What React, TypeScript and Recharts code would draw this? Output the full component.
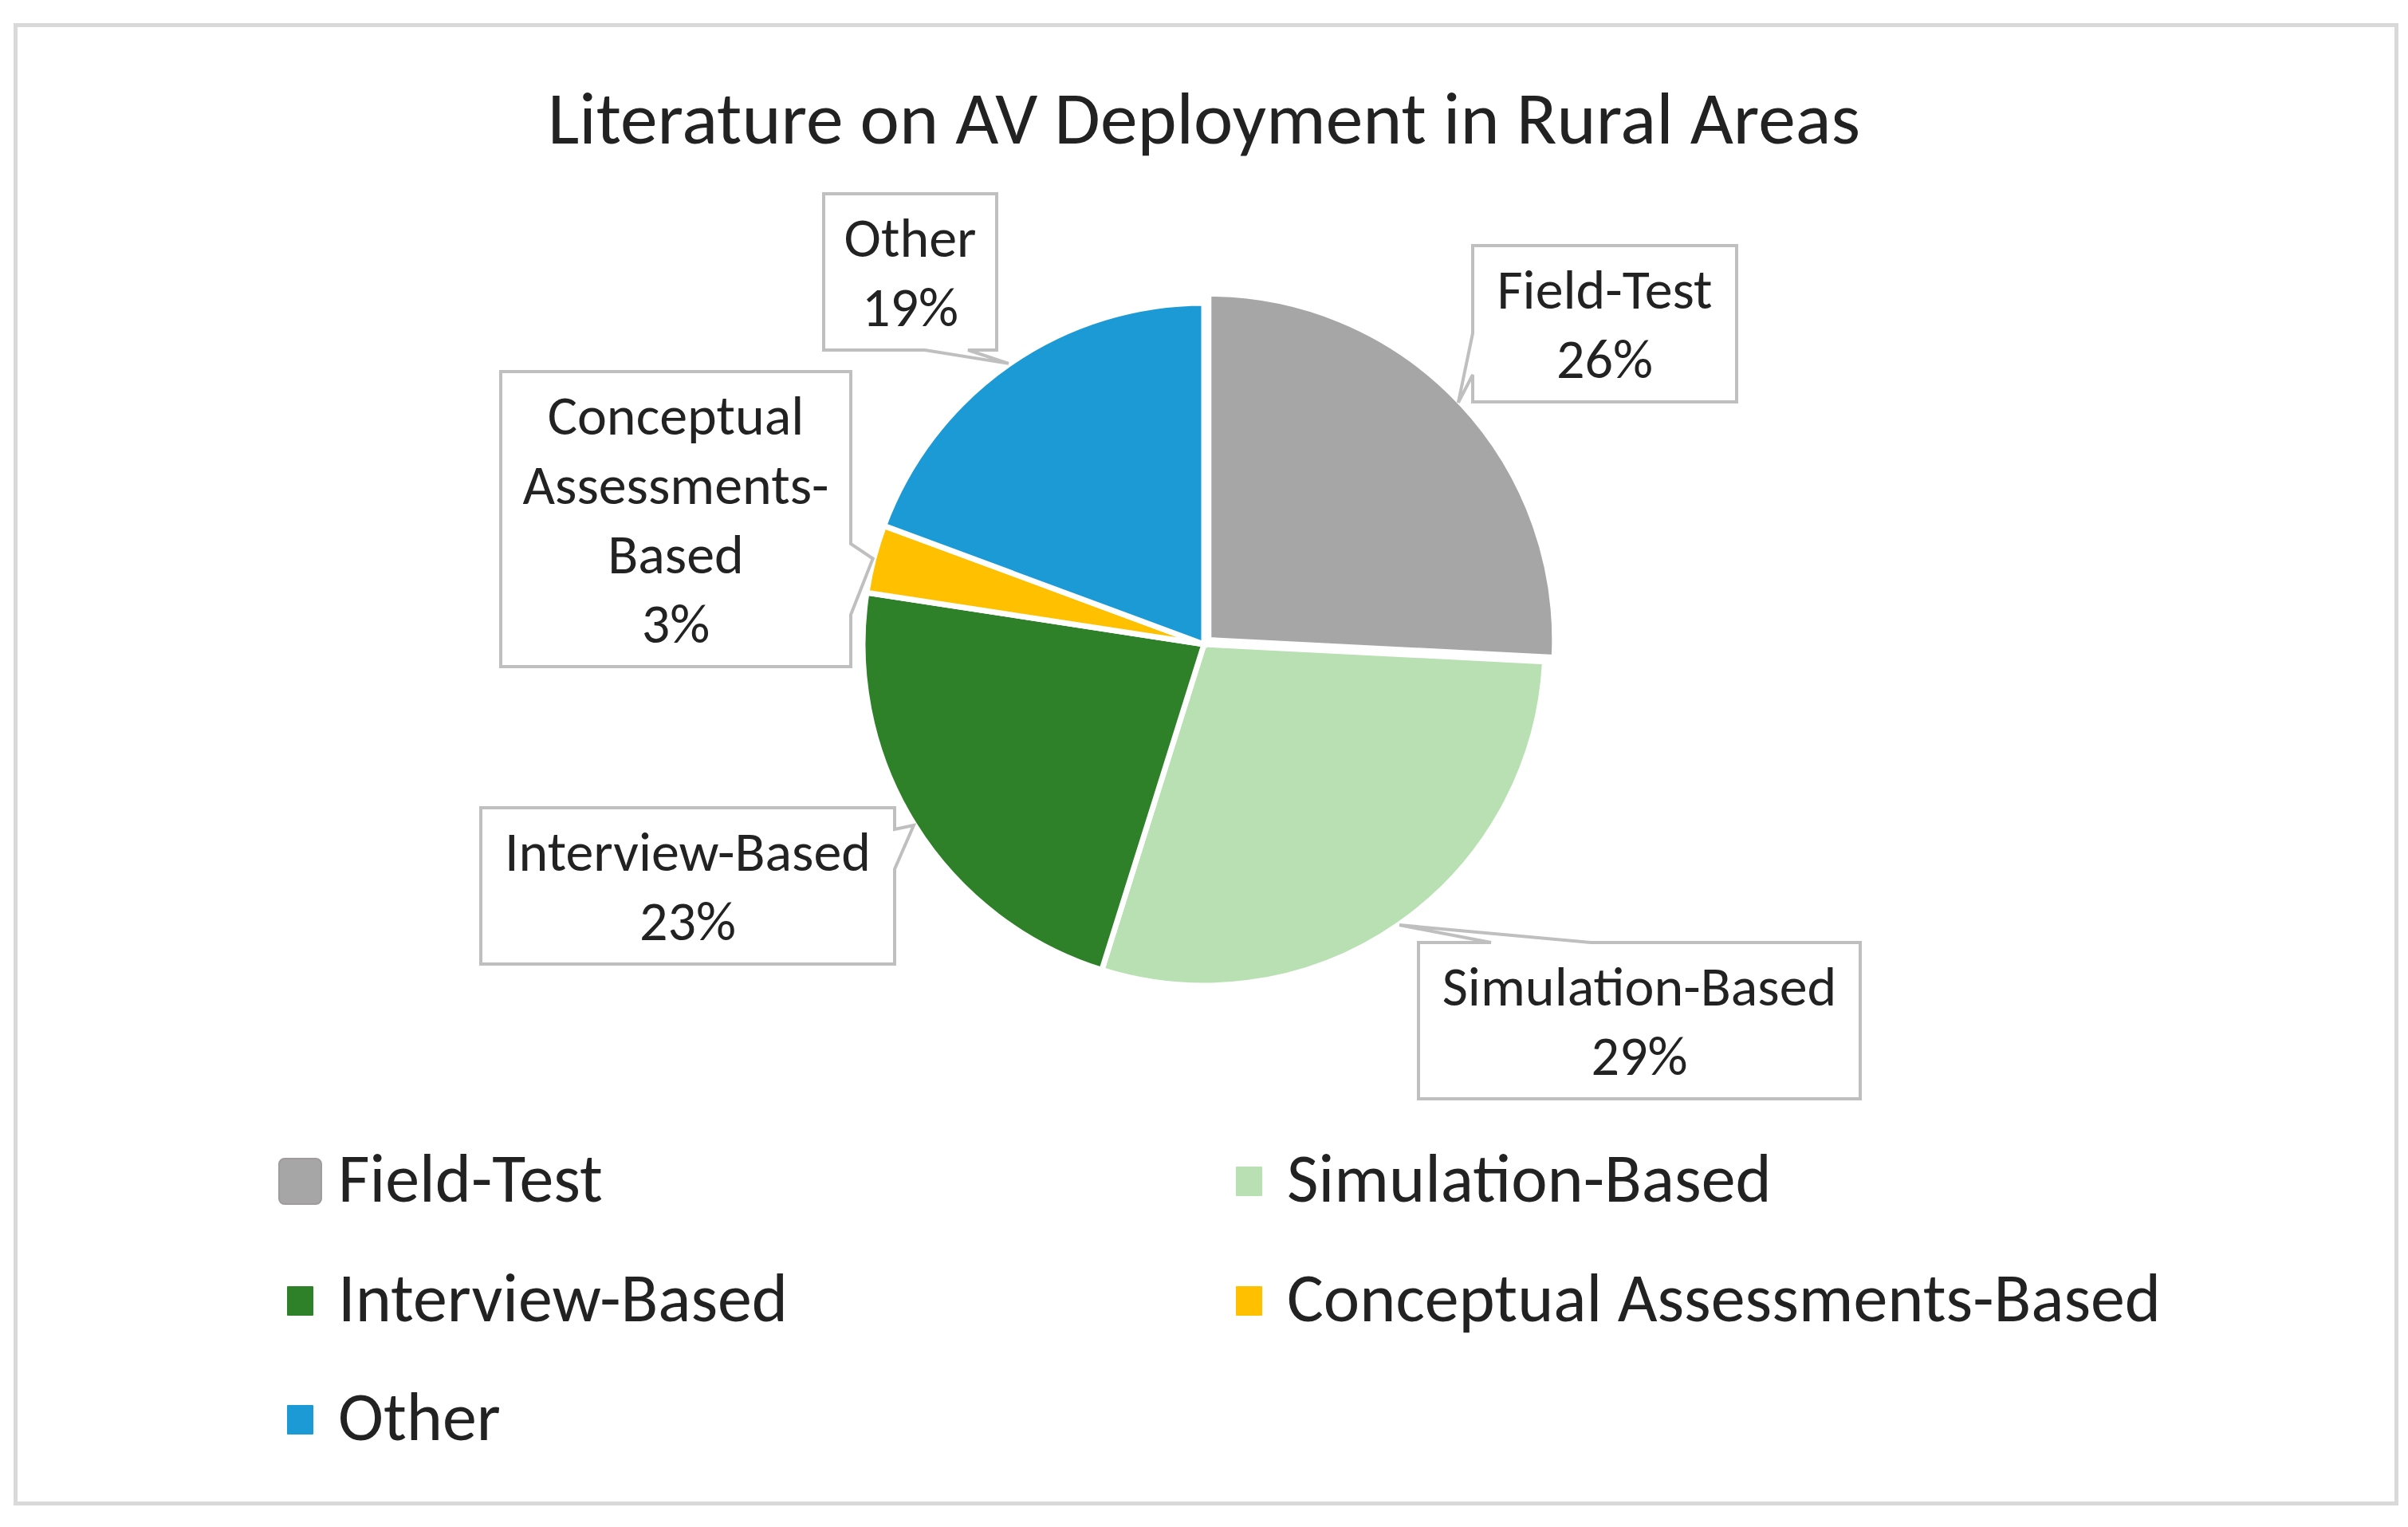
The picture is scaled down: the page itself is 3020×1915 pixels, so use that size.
import React from "react";
import { PieChart, Pie, Cell, Legend } from "recharts";

// ---------- data ----------
const categories = ["Field-Test", "Simulation-Based", "Interview-Based", "Conceptual Assessments-Based", "Other"];
const paperCounts = [8, 9, 7, 1, 6];
const labelLines = [["Field-Test"], ["Simulation-Based"], ["Interview-Based"], ["Conceptual", "Assessments-", "Based"], ["Other"]];
const colors = ["#A6A6A6", "#B9E0B3", "#2E8029", "#FFC000", "#1B9AD6"];
const chartTitle = "Literature on AV Deployment in Rural Areas";

const data = categories.map((name, i) => ({ name, value: paperCounts[i] }));

// ---------- layout ----------
const W = 3020;
const H = 1915;
const CX = 1510;
const CY = 808;
const R = 428;
const FONT = "Carlito, Lato, 'Noto Sans', sans-serif";
const TEXT_COLOR = "#222222";
const RAD = Math.PI / 180;
const EXPLODE = [8, 0, 0, 0, 0];
const EXTRA_R = [3, 0, 0, 0, 0];

type Side = "top" | "right" | "bottom" | "left";
const LABEL_BOX: { dx: number; dy: number; w: number; side: Side; a: number; b: number }[] = [
  { dx: 337, dy: -500, w: 331, side: "left", a: 110, b: 162 },
  { dx: 269, dy: 374, w: 554, side: "top", a: 91, b: 216 },
  { dx: -907, dy: 205, w: 519, side: "right", a: 27, b: 77 },
  { dx: -882, dy: -342, w: 439, side: "right", a: 216, b: 305 },
  { dx: -477, dy: -565, w: 217, side: "bottom", a: 127, b: 181 },
];
const LINE_STEP = 87;
const FIRST_BASE = 79;
const BOTTOM_PAD = 30;

const total = paperCounts.reduce((s, v) => s + v, 0);
const startAngle = 90;
const endAngle = -270;
// polar mid-angle of the exploded (first) slice
const firstMid = startAngle - ((paperCounts[0] / 2) / total) * 360;
const explodeCx = CX + EXPLODE[0] * Math.cos(firstMid * RAD);
const explodeCy = CY - EXPLODE[0] * Math.sin(firstMid * RAD);

const renderLabel = (props: any) => {
  const { cx, cy, midAngle, outerRadius, percent, index } = props;
  const L = LABEL_BOX[index];
  const lines = [...labelLines[index], `${Math.round(percent * 100)}%`];
  const ex = EXPLODE[index] * Math.cos(-midAngle * RAD);
  const ey = EXPLODE[index] * Math.sin(-midAngle * RAD);
  const r = outerRadius + EXTRA_R[index] + 1;
  const tx = cx + ex + r * Math.cos(-midAngle * RAD);
  const ty = cy + ey + r * Math.sin(-midAngle * RAD);
  const x0 = cx + L.dx;
  const y0 = cy + L.dy;
  const w = L.w;
  const h = FIRST_BASE + LINE_STEP * (lines.length - 1) + BOTTOM_PAD;
  let d = `M${x0},${y0}`;
  if (L.side === "top") d += ` L${x0 + L.a},${y0} L${tx},${ty} L${x0 + L.b},${y0}`;
  d += ` L${x0 + w},${y0}`;
  if (L.side === "right") d += ` L${x0 + w},${y0 + L.a} L${tx},${ty} L${x0 + w},${y0 + L.b}`;
  d += ` L${x0 + w},${y0 + h}`;
  if (L.side === "bottom") d += ` L${x0 + L.b},${y0 + h} L${tx},${ty} L${x0 + L.a},${y0 + h}`;
  d += ` L${x0},${y0 + h}`;
  if (L.side === "left") d += ` L${x0},${y0 + L.b} L${tx},${ty} L${x0},${y0 + L.a}`;
  d += " Z";
  return (
    <g key={`lbl-${index}`}>
      <path d={d} fill="#FFFFFF" stroke="#BFBFBF" strokeWidth={4} strokeLinejoin="miter" />
      {lines.map((t, i) => (
        <text
          key={i}
          x={x0 + w / 2}
          y={y0 + FIRST_BASE + LINE_STEP * i}
          textAnchor="middle"
          fontFamily={FONT}
          fontSize={70}
          fill={TEXT_COLOR}
        >
          {t}
        </text>
      ))}
    </g>
  );
};

const LEGEND_COL_X = [376, 1566];
const LEGEND_ROW_Y = [1481, 1631, 1780];
const LEGEND_TOP = 1400;

const renderLegend = () => (
  <div style={{ position: "relative", width: W, height: 480 }}>
    {categories.map((name, i) => {
      const col = i % 2;
      const row = Math.floor(i / 2);
      const mx = LEGEND_COL_X[col];
      const my = LEGEND_ROW_Y[row] - LEGEND_TOP;
      const big = i === 0;
      const mw = big ? 55 : 33;
      const mh = big ? 59 : 37;
      return (
        <div key={name}>
          <div
            style={{
              position: "absolute",
              left: mx - mw / 2,
              top: my - mh / 2,
              width: mw,
              height: mh,
              background: colors[i],
              borderRadius: big ? 8 : 1,
              boxSizing: "border-box",
              border: big ? "2px solid #A09C9C" : "none",
            }}
          />
          <div
            style={{
              position: "absolute",
              left: mx + 48,
              top: my - 63,
              height: 120,
              lineHeight: "120px",
              fontFamily: FONT,
              fontSize: 86,
              color: TEXT_COLOR,
              whiteSpace: "nowrap",
            }}
          >
            {name}
          </div>
        </div>
      );
    })}
  </div>
);

export default function App() {
  return (
    <div style={{ position: "absolute", left: 0, top: 0, width: W, height: H, background: "#FFFFFF" }}>
      <svg width={W} height={H} style={{ position: "absolute", left: 0, top: 0 }}>
        <rect x={19.5} y={31.5} width={2986} height={1854} fill="#FFFFFF" stroke="#D9D9D9" strokeWidth={5} />
        <text x={1510} y={180} textAnchor="middle" fontFamily={FONT} fontSize={93.5} fill={TEXT_COLOR}>
          {chartTitle}
        </text>
      </svg>
      <div style={{ position: "absolute", left: 0, top: 0 }}>
        <PieChart width={W} height={H} margin={{ top: 0, right: 0, bottom: 0, left: 0 }}>
          <Pie
            data={data}
            dataKey="value"
            nameKey="name"
            cx={CX}
            cy={CY}
            outerRadius={R}
            startAngle={startAngle}
            endAngle={endAngle}
            stroke="#FFFFFF"
            strokeWidth={7}
            label={renderLabel}
            labelLine={false}
            isAnimationActive={false}
          >
            {data.map((d, i) => (
              <Cell key={d.name} fill={i === 0 ? "none" : colors[i]} stroke={i === 0 ? "none" : "#FFFFFF"} />
            ))}
          </Pie>
          <Pie
            data={data}
            dataKey="value"
            nameKey="name"
            cx={explodeCx}
            cy={explodeCy}
            outerRadius={R + 6}
            startAngle={startAngle}
            endAngle={endAngle}
            stroke="#FFFFFF"
            strokeWidth={7}
            legendType="none"
            isAnimationActive={false}
          >
            {data.map((d, i) => (
              <Cell key={d.name} fill={i === 0 ? colors[0] : "none"} stroke={i === 0 ? "#FFFFFF" : "none"} />
            ))}
          </Pie>
          <Legend
            verticalAlign="bottom"
            content={renderLegend}
            wrapperStyle={{ position: "absolute", left: 0, top: LEGEND_TOP, bottom: "auto", width: W, height: 480 }}
          />
        </PieChart>
      </div>
    </div>
  );
}
